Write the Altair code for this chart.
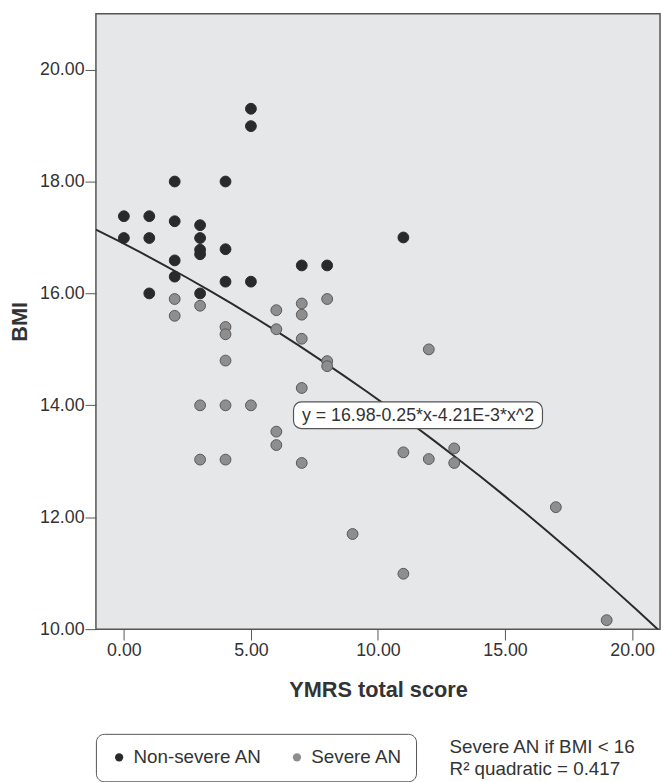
import altair as alt
import pandas as pd

# Non-severe AN (BMI >= 16)
ns_ymrs = [0, 0, 1, 1, 1, 2, 2, 2, 2, 3, 3, 3, 3, 3, 4, 4, 4, 5, 5, 5, 7, 8, 11]
ns_bmi = [17.38, 16.99, 17.38, 16.99, 16.00, 18.00, 17.29, 16.59, 16.30,
          17.22, 16.99, 16.78, 16.70, 16.00, 18.00, 16.79, 16.21, 19.30,
          18.99, 16.21, 16.50, 16.50, 17.00]

# Severe AN (BMI < 16)
sv_ymrs = [2, 2, 3, 3, 3, 4, 4, 4, 4, 4, 5, 6, 6, 6, 6, 7, 7, 7, 7, 7,
           8, 8, 8, 9, 11, 11, 12, 12, 13, 13, 17, 19]
sv_bmi = [15.90, 15.60, 15.78, 14.00, 13.03, 15.40, 15.27, 14.80, 14.00,
          13.03, 14.00, 15.70, 15.36, 13.53, 13.29, 15.82, 15.62, 15.19,
          14.31, 12.97, 15.90, 14.79, 14.70, 11.70, 13.16, 10.99, 15.00,
          13.04, 13.23, 12.97, 12.18, 10.16]

groups = ["Non-severe AN", "Severe AN"]
group_fill = ["#2a2a2a", "#8e8e8e"]
group_stroke = ["#2a2a2a", "#575757"]

x_ticks = [0, 5, 10, 15, 20]
y_ticks = [10, 12, 14, 16, 18, 20]

equation_label = "y = 16.98-0.25*x-4.21E-3*x^2"
note_lines = ["Severe AN if BMI < 16", "R\u00b2 quadratic = 0.417"]

df = pd.DataFrame({
    "ymrs": ns_ymrs + sv_ymrs,
    "bmi": ns_bmi + sv_bmi,
    "group": [groups[0]] * len(ns_ymrs) + [groups[1]] * len(sv_ymrs),
})

FONT = "Liberation Sans"
x_scale = alt.Scale(domain=[-1.1, 21.1], nice=False, zero=False)
y_scale = alt.Scale(domain=[10, 21.0], nice=False, zero=False)

x_axis = alt.Axis(values=x_ticks, format=".2f", title="YMRS total score",
                  grid=False, domain=False, tickSize=11, tickColor="#555",
                  labelFontSize=18, labelFont=FONT, labelColor="#333",
                  labelPadding=2, titleFont=FONT, titleFontSize=22,
                  titleFontWeight="bold", titleColor="#333", titlePadding=20)
y_axis = alt.Axis(values=y_ticks, format=".2f", title="BMI",
                  grid=False, domain=False, tickSize=11, tickColor="#555",
                  labelFontSize=18, labelFont=FONT, labelColor="#333",
                  labelPadding=1, titleFont=FONT, titleFontSize=22,
                  titleFontWeight="bold", titleColor="#333", titlePadding=8)

base = alt.Chart(df)

fit = base.transform_regression(
    "ymrs", "bmi", method="poly", order=2, extent=[-1.1, 21.1]
).mark_line(color="#2b2b2b", strokeWidth=2, clip=True).encode(
    x=alt.X("ymrs:Q", scale=x_scale, axis=x_axis),
    y=alt.Y("bmi:Q", scale=y_scale, axis=y_axis),
)

points = base.mark_point(filled=True, size=120, strokeWidth=1, opacity=1).encode(
    x=alt.X("ymrs:Q", scale=x_scale, axis=x_axis),
    y=alt.Y("bmi:Q", scale=y_scale, axis=y_axis),
    fill=alt.Fill("group:N", scale=alt.Scale(domain=groups, range=group_fill),
                  legend=alt.Legend(title=None, orient="none", legendX=0,
                                    legendY=729, direction="horizontal",
                                    symbolType="circle", symbolSize=70,
                                    symbolStrokeWidth=0,
                                    labelFontSize=19, labelFont=FONT,
                                    labelColor="#333", labelOffset=5,
                                    columnPadding=26, padding=14,
                                    strokeColor="#555", cornerRadius=8)),
    stroke=alt.Stroke("group:N", scale=alt.Scale(domain=groups, range=group_stroke),
                      legend=None),
)

box = alt.Chart(pd.DataFrame({"label": [equation_label]})).mark_rect(
    cornerRadius=8, fill="white", stroke="#555", strokeWidth=1.2
).encode(x=alt.value(200), x2=alt.value(452), y=alt.value(393), y2=alt.value(420))

box_text = alt.Chart(pd.DataFrame({"label": [equation_label]})).mark_text(
    font=FONT, fontSize=18, color="#333", align="center", baseline="middle"
).encode(x=alt.value(326), y=alt.value(407), text="label:N")

note1 = alt.Chart(pd.DataFrame({"t": [note_lines[0]]})).mark_text(
    font=FONT, fontSize=19, color="#333", align="left", baseline="alphabetic"
).encode(x=alt.value(358), y=alt.value(748), text="t:N")
note2 = alt.Chart(pd.DataFrame({"t": [note_lines[1]]})).mark_text(
    font=FONT, fontSize=19, color="#333", align="left", baseline="alphabetic"
).encode(x=alt.value(358), y=alt.value(771), text="t:N")

chart = alt.layer(fit, points, box, box_text, note1, note2).properties(
    width=571, height=623,
    autosize=alt.AutoSizeParams(type="none"),
    padding={"left": 89, "top": 1, "right": 3, "bottom": 150},
).configure_view(
    fill="#e6e7e9", stroke="#555", strokeWidth=1.5
)

chart.save("out.html", embed_options={"renderer": "svg", "actions": False})
